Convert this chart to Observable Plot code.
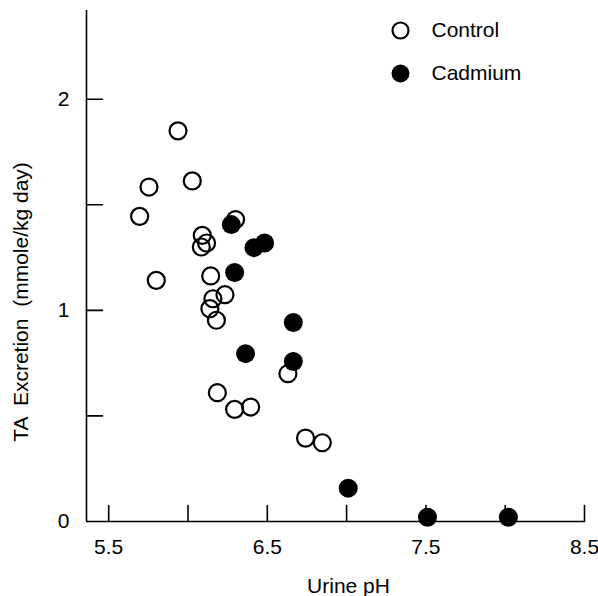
<!DOCTYPE html>
<html>
<head>
<meta charset="utf-8">
<script src="https://cdn.jsdelivr.net/npm/d3@7"></script>
<script src="https://cdn.jsdelivr.net/npm/@observablehq/plot@0.6"></script>
<style>
  html, body { margin: 0; padding: 0; background: #fff; }
  #chart svg { display: block; }
</style>
</head>
<body>
<div id="chart"></div>
<script>
// Control (open circles): urine pH and TA excretion
const controlPH = [5.937, 6.027, 5.754, 5.695, 6.300, 6.090, 6.117, 6.084, 5.800, 6.143,
                   6.233, 6.157, 6.138, 6.179, 6.630, 6.185, 6.294, 6.395, 6.741, 6.847];
const controlTA = [1.850, 1.613, 1.584, 1.445, 1.430, 1.355, 1.319, 1.300, 1.142, 1.163,
                   1.074, 1.055, 1.008, 0.953, 0.700, 0.610, 0.531, 0.542, 0.395, 0.373];
// Cadmium (filled circles)
const cadmiumPH = [6.273, 6.416, 6.483, 6.294, 6.664, 6.363, 6.664, 7.010, 7.510, 8.020];
const cadmiumTA = [1.406, 1.297, 1.319, 1.179, 0.942, 0.795, 0.758, 0.158, 0.020, 0.020];

const xTicks = [5.5, 6.0, 6.5, 7.0, 7.5, 8.0, 8.5];
const xTickLabels = [5.5, 6.5, 7.5, 8.5];
const yTicks = [0.5, 1.0, 1.5, 2.0];
const yTickLabels = [0, 1, 2];
const xDomain = [5.36, 8.5];
const yDomain = [0, 2.42];
const legendLabels = ["Control", "Cadmium"];

const control = controlPH.map((x, i) => ({x, y: controlTA[i]}));
const cadmium = cadmiumPH.map((x, i) => ({x, y: cadmiumTA[i]}));

const tickShape = {draw(context, l) { context.moveTo(0, 0); context.lineTo(0, -l); }};

const chart = Plot.plot({
  width: 598,
  height: 596,
  marginLeft: 86,
  marginRight: 14,
  marginTop: 10,
  marginBottom: 75,
  style: {fontFamily: "'Liberation Sans', Arial, sans-serif", fontSize: "21px", color: "#000", background: "#fff"},
  x: {domain: xDomain},
  y: {domain: yDomain},
  marks: [
    Plot.axisX({ticks: xTickLabels, tickSize: 0, tickPadding: 18, label: null, tickFormat: d3.format(".1f")}),
    Plot.axisY({ticks: yTickLabels, tickSize: 0, tickPadding: 17, label: null, tickFormat: d => String(d)}),
    Plot.ruleY([yDomain[0]], {stroke: "#000", strokeWidth: 1.6}),
    Plot.ruleX([xDomain[0]], {stroke: "#000", strokeWidth: 1.6}),
    Plot.vector(xTicks, {x: d => d, frameAnchor: "bottom", length: 16, rotate: 0, anchor: "start", shape: tickShape, stroke: "#000", strokeWidth: 1.6}),
    Plot.vector(yTicks, {y: d => d, frameAnchor: "left", length: 16, rotate: 90, anchor: "start", shape: tickShape, stroke: "#000", strokeWidth: 1.6}),
    Plot.dot(control, {x: "x", y: "y", r: 8.5, stroke: "#000", strokeWidth: 2.2, fill: "none"}),
    Plot.dot(cadmium, {x: "x", y: "y", r: 9.5, fill: "#000", stroke: "none"}),
    // legend
    Plot.dot([legendLabels[0]], {frameAnchor: "top-left", dx: 314, dy: 20, r: 8, stroke: "#000", strokeWidth: 2.2, fill: "none"}),
    Plot.dot([legendLabels[1]], {frameAnchor: "top-left", dx: 314, dy: 63, r: 9, fill: "#000"}),
    Plot.text([legendLabels[0]], {text: d => d, frameAnchor: "top-left", dx: 345, dy: 20, textAnchor: "start", lineAnchor: "middle", fill: "#000"}),
    Plot.text([legendLabels[1]], {text: d => d, frameAnchor: "top-left", dx: 345, dy: 63, textAnchor: "start", lineAnchor: "middle", fill: "#000"}),
    // axis titles
    Plot.text(["Urine pH"], {text: d => d, frameAnchor: "bottom", dx: 13, dy: 65, textAnchor: "middle", lineAnchor: "middle", fill: "#000"}),
    Plot.text(["TA  Excretion  (mmole/kg day)"], {text: d => d, frameAnchor: "left", rotate: -90, dx: -65, dy: 36, textAnchor: "middle", lineAnchor: "middle", fill: "#000"})
  ]
});
document.getElementById("chart").appendChild(chart);
</script>
</body>
</html>
